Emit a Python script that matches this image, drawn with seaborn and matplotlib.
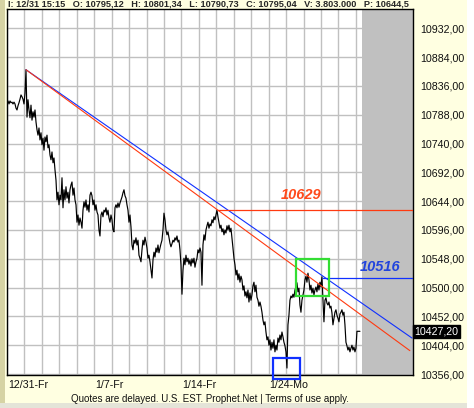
import numpy as np
import matplotlib
matplotlib.use("Agg")
import matplotlib.pyplot as plt
import matplotlib.patches as mpatches
import matplotlib.transforms as mtransforms
import seaborn as sns

# price bars, Dow intraday 12/31 -> 1/26
prices = [
    10808, 10811, 10806, 10811, 10808, 10809, 10806, 10809, 10806, 10799,
    10796, 10803, 10808, 10814, 10821, 10818, 10814, 10806, 10824, 10863,
    10784, 10813, 10796, 10783, 10804, 10779, 10793, 10784, 10796, 10776,
    10763, 10754, 10766, 10746, 10758, 10738, 10749, 10729, 10751, 10743,
    10754, 10733, 10738, 10721, 10713, 10726, 10708, 10716, 10696, 10679,
    10646, 10659, 10638, 10654, 10646, 10683, 10633, 10663, 10646, 10668,
    10649, 10659, 10641, 10663, 10671, 10676, 10654, 10666, 10646, 10638,
    10609, 10621, 10604, 10616, 10609, 10599, 10629, 10643, 10634, 10646,
    10629, 10638, 10626, 10654, 10659, 10653, 10638, 10646, 10629, 10638,
    10626, 10621, 10596, 10586, 10621, 10626, 10618, 10629, 10626, 10633,
    10621, 10629, 10616, 10609, 10621, 10613, 10596, 10593, 10633, 10638,
    10633, 10641, 10634, 10641, 10646, 10651, 10658, 10663, 10653, 10649,
    10638, 10629, 10609, 10621, 10601, 10571, 10563, 10579, 10574, 10583,
    10571, 10579, 10554, 10549, 10543, 10563, 10579, 10571, 10584, 10576,
    10566, 10549, 10554, 10543, 10529, 10516, 10546, 10559, 10551, 10566,
    10559, 10571, 10558, 10566, 10573, 10579, 10596, 10624, 10613, 10596,
    10588, 10593, 10583, 10574, 10568, 10573, 10579, 10576, 10583, 10579,
    10586, 10576, 10579, 10563, 10538, 10489, 10529, 10549, 10538, 10554,
    10543, 10549, 10539, 10546, 10536, 10548, 10541, 10549, 10534, 10543,
    10549, 10563, 10558, 10566, 10559, 10504, 10571, 10588, 10579, 10596,
    10603, 10609, 10599, 10606, 10603, 10613, 10608, 10618, 10613, 10621,
    10629, 10618, 10609, 10599, 10604, 10593, 10598, 10588, 10596, 10591,
    10603, 10596, 10604, 10593, 10599, 10583, 10566, 10549, 10538, 10521,
    10529, 10513, 10523, 10509, 10519, 10513, 10496, 10503, 10486, 10493,
    10483, 10496, 10476, 10491, 10479, 10488, 10503, 10509, 10493, 10504,
    10484, 10479, 10469, 10476, 10469, 10459, 10446, 10438, 10443, 10426,
    10413, 10418, 10404, 10413, 10396, 10409, 10399, 10413, 10393, 10404,
    10396, 10416, 10409, 10421, 10413, 10426, 10418, 10409, 10403, 10393,
    10366, 10438, 10454, 10479, 10486, 10483, 10489, 10484, 10496, 10501,
    10508, 10493, 10499, 10471, 10459, 10479, 10488, 10496, 10513, 10519,
    10509, 10524, 10513, 10496, 10504, 10491, 10499, 10488, 10496, 10501,
    10493, 10506, 10496, 10509, 10501, 10518, 10479, 10443, 10479, 10483,
    10474, 10471, 10476, 10466, 10469, 10458, 10438, 10449, 10459, 10463,
    10454, 10449, 10443, 10456, 10459, 10463, 10454, 10459, 10438, 10409,
    10403, 10396, 10401, 10393, 10399, 10404, 10396, 10401, 10393, 10399,
    10427.2, 10427.2, 10427.2, 10427.2,
]
BARS_PER_DAY = 17.45
day = np.arange(len(prices)) / BARS_PER_DAY
last_price = 10427.2

y_ticks = [10356, 10404, 10452, 10500, 10548, 10596, 10644, 10692,
           10740, 10788, 10836, 10884, 10932]
y_labels = ["10356,00", "10404,00", "10452,00", "10500,00", "10548,00",
            "10596,00", "10644,00", "10692,00", "10740,00", "10788,00",
            "10836,00", "10884,00", "10932,00"]
x_ticks = [0, 5, 10, 15]
x_labels = ["12/31-Fr", "1/7-Fr", "1/14-Fr", "1/24-Mo"]

# drawn trend lines and levels
blue_trend_x = [1.09, 23.21]
blue_trend_y = [10863, 10416]
red_trend_x = [1.09, 23.09]
red_trend_y = [10863, 10395]
red_level, red_level_start = 10629, 12.02
blue_level, blue_level_start = 10516, 18.03
green_box = (16.56, 10486, 18.45, 10548)
blue_box = (15.24, 10348, 16.79, 10383)

sns.set_style("white")
plt.rcParams["font.family"] = ["Liberation Sans", "DejaVu Sans"]

fig = plt.figure(figsize=(4.74, 4.08), dpi=100)
fig.patch.set_facecolor("#ffffe1")
ax = fig.add_axes([7 / 474, 1 - 375 / 408, 406 / 474, 366 / 408])
ax.set_facecolor("white")

ax.set_xlim(0, 23.27)
ax.set_ylim(10354.4, 10964.2)
ax.set_xticks(range(0, 21))
ax.set_yticks(y_ticks)
ax.grid(True, color="#c0c0c0", lw=1.0)
ax.set_axisbelow(True)
ax.axvspan(20.33, 23.27, color="#c0c0c0", zorder=1, lw=0)

sns.lineplot(x=day, y=prices, ax=ax, color="black", lw=0.85, zorder=3)

ax.plot(blue_trend_x, blue_trend_y, color="#1030ff", lw=0.8, zorder=4)
ax.plot(red_trend_x, red_trend_y, color="#ff3a10", lw=0.8, zorder=4)
ax.hlines(red_level, red_level_start, 23.27, color="#ff3a10", lw=0.9, zorder=4)
ax.hlines(blue_level, blue_level_start, 23.27, color="#1030ff", lw=0.9, zorder=4)
ax.text(16.85, 10654, "10629", color="#ff4a1c", fontsize=10.5,
        weight="bold", style="italic", ha="center", va="center")
ax.text(21.4, 10535, "10516", color="#2244dd", fontsize=10.5,
        weight="bold", style="italic", ha="center", va="center")

gx0, gy0, gx1, gy1 = green_box
ax.add_patch(mpatches.Rectangle((gx0, gy0), gx1 - gx0, gy1 - gy0, fill=False,
                                ec="#33dd33", lw=1.6, zorder=5))
bx0, by0, bx1, by1 = blue_box
ax.add_patch(mpatches.Rectangle((bx0, by0), bx1 - bx0, by1 - by0, fill=False,
                                ec="#1030ff", lw=1.6, zorder=5, clip_on=False))

for s in ax.spines.values():
    s.set_visible(True)
    s.set_color("black")
    s.set_linewidth(1.0)

ax.yaxis.tick_right()
ax.set_yticklabels(y_labels)
ax.set_xticklabels([""] * 21)
ax.tick_params(axis="y", length=0, pad=5, labelsize=7.7, colors="#111111")
ax.tick_params(axis="x", length=0)
for xv, lab in zip(x_ticks, x_labels):
    ax.text(xv + 0.05, -0.028, lab, transform=ax.get_xaxis_transform(),
            fontsize=7.7, ha="left", va="center", color="#111111")

trans = mtransforms.blended_transform_factory(ax.transAxes, ax.transData)
ax.text(1.003, last_price, "10427,20", transform=trans, color="white",
        fontsize=7.7, ha="left", va="center",
        bbox=dict(boxstyle="square,pad=0.15", fc="black", ec="black"))

fig.text(8 / 474, 1.0,
         "I: 12/31 15:15   O: 10795,12   H: 10801,34   L: 10790,73   C: 10795,04   V: 3.803.000   P: 10644,5",
         fontsize=6.6, weight="bold", ha="left", va="top")
fig.text(209.5 / 474, 1 - 399 / 408,
         "Quotes are delayed. U.S. EST. Prophet.Net | Terms of use apply.",
         fontsize=7, ha="center", va="center", color="#111111")

# window frame strips
fig.add_artist(mpatches.Rectangle((0, 0), 5 / 474, 1, transform=fig.transFigure,
                                  fc="#d6d3a4", ec="none"))
fig.add_artist(mpatches.Rectangle((0, 0), 1, 5 / 408, transform=fig.transFigure,
                                  fc="#e4e4d8", ec="none"))
fig.add_artist(mpatches.Rectangle((467 / 474, 0), 7 / 474, 1, transform=fig.transFigure,
                                  fc="white", ec="none"))

fig.savefig("out.png", dpi=100, facecolor=fig.get_facecolor())
